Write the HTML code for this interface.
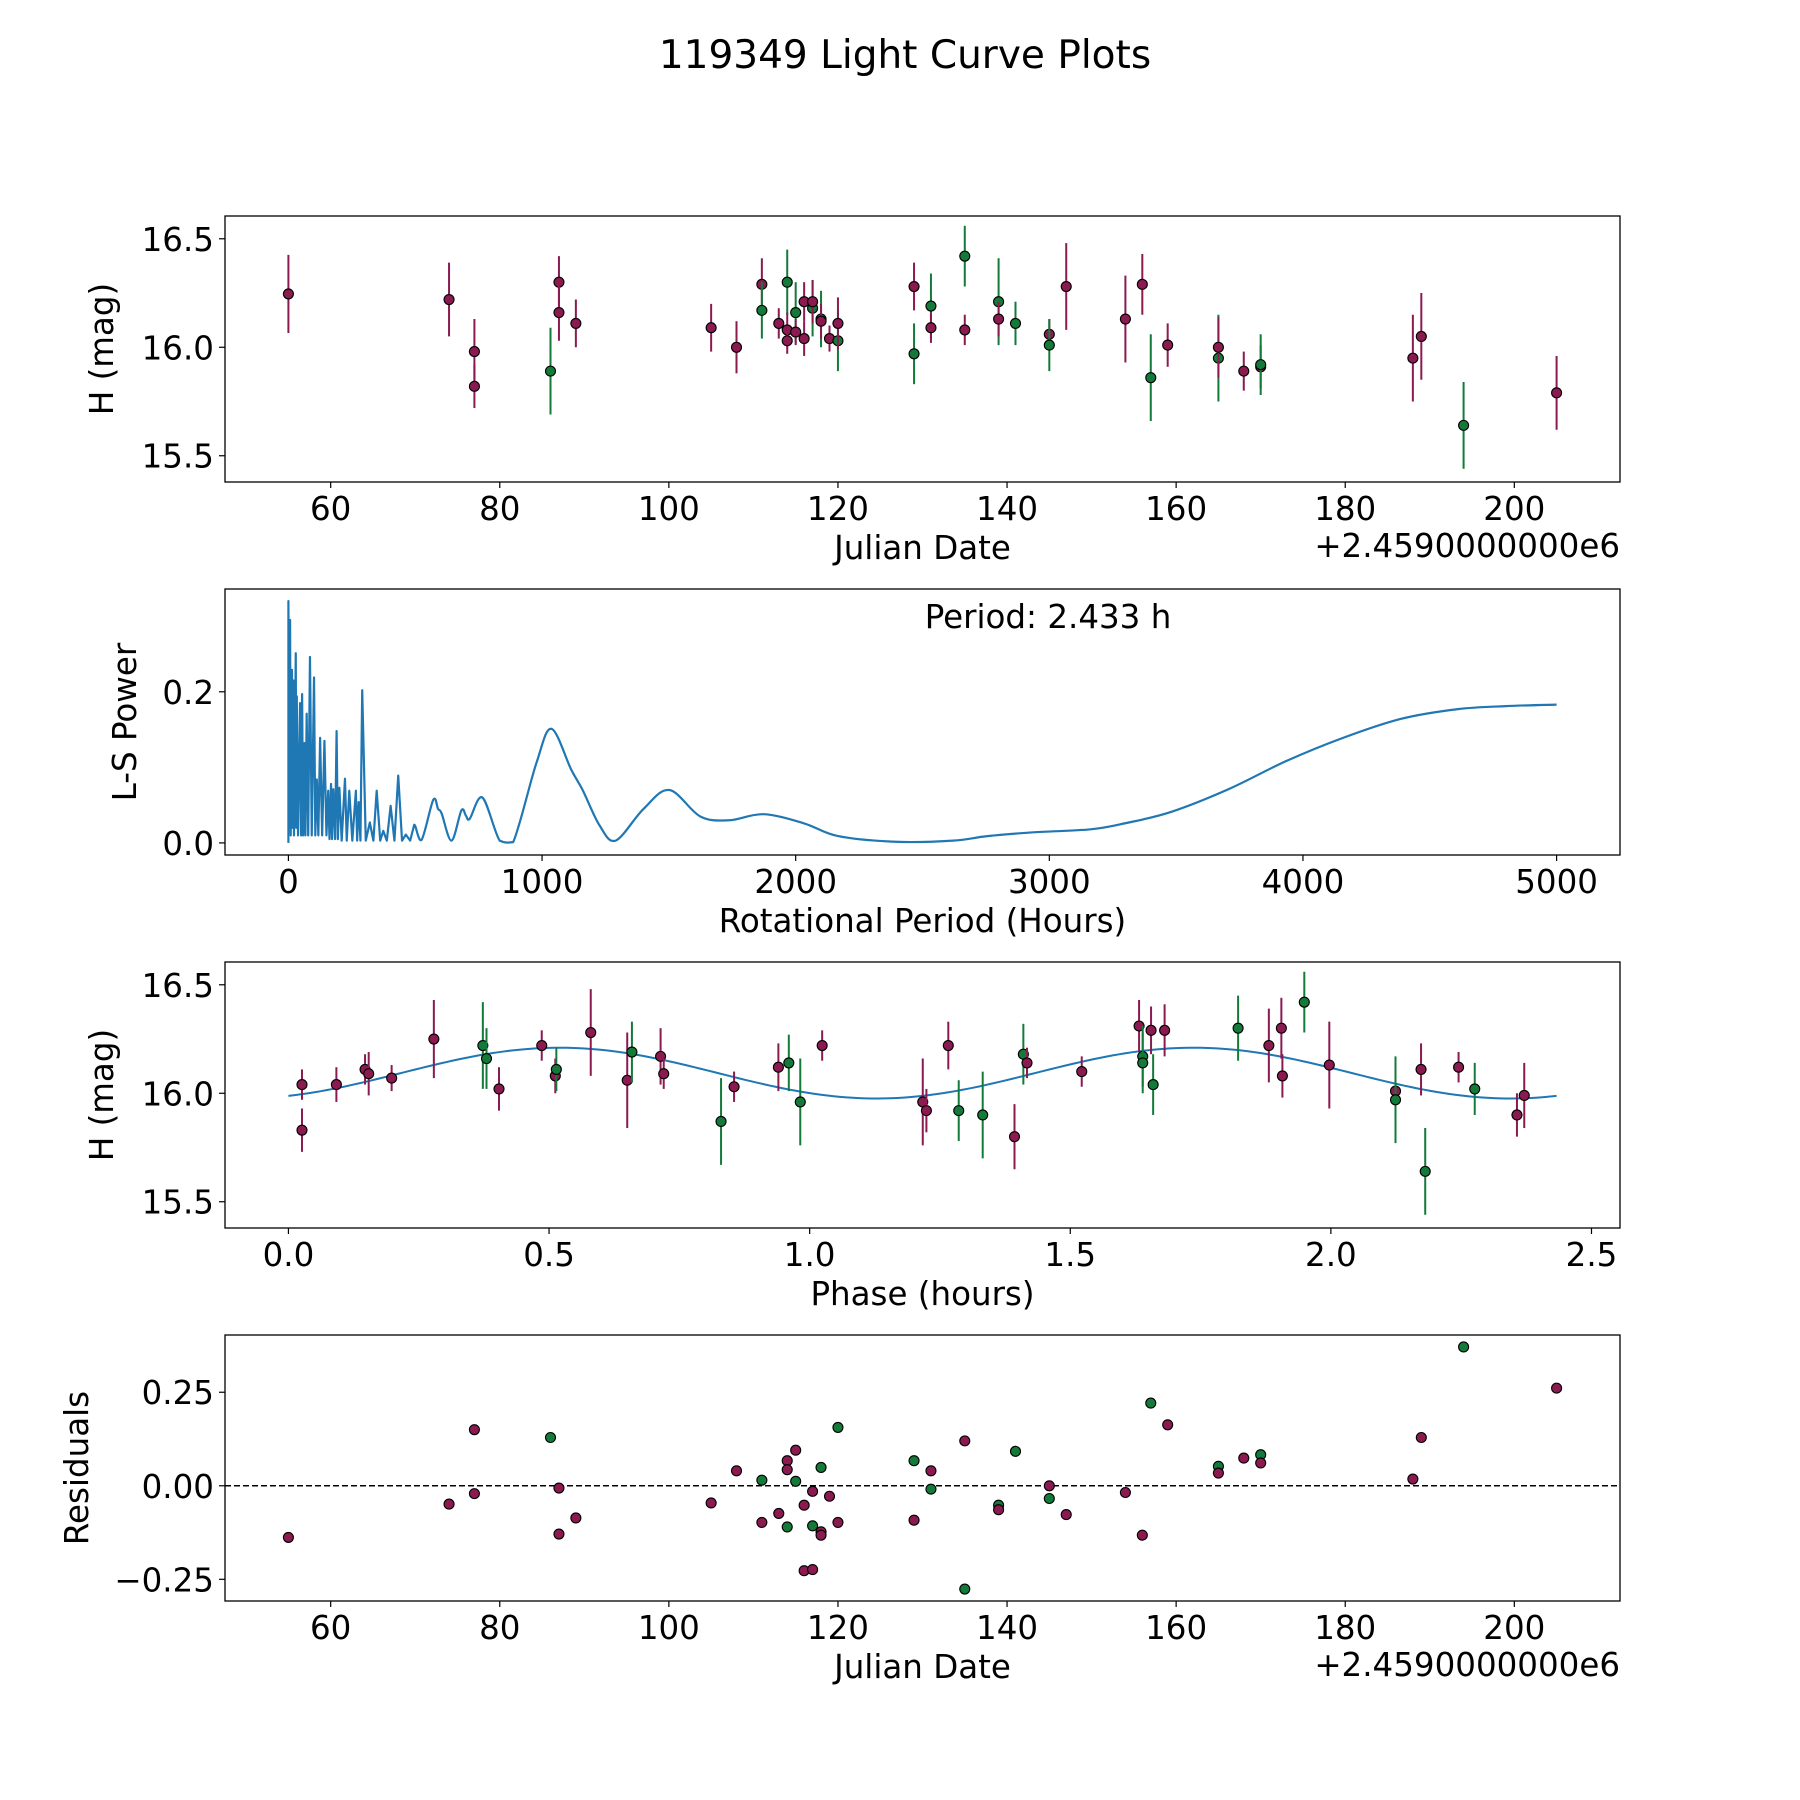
<!DOCTYPE html>
<html><head><meta charset="utf-8"><style>
html,body{margin:0;padding:0;background:#fff;}
svg{display:block;font-family:"DejaVu Sans","Liberation Sans",sans-serif;}
</style></head><body>
<svg id="fig" width="1800" height="1800" viewBox="0 0 1800 1800" xmlns="http://www.w3.org/2000/svg">
<rect width="1800" height="1800" fill="#fff"/>
<text x="905" y="68" font-size="39" text-anchor="middle">119349 Light Curve Plots</text>
</svg>
<script>
// ---- Panel 1: light curve data ----
const lcDate = [55,74,77,77,86,87,87,89,105,108,111,111,113,114,114,114,115,115,116,116,117,117,118,118,119,120,120,129,129,131,131,135,135,139,139,141,145,145,147,154,156,157,159,165,165,168,170,170,188,189,194,205];
const lcMag = [16.246,16.22,15.98,15.82,15.89,16.30,16.16,16.11,16.09,16.00,16.29,16.17,16.11,16.30,16.08,16.03,16.16,16.07,16.04,16.21,16.18,16.21,16.13,16.12,16.04,16.03,16.11,15.97,16.28,16.19,16.09,16.42,16.08,16.21,16.13,16.11,16.06,16.01,16.28,16.13,16.29,15.86,16.01,15.95,16.00,15.89,15.91,15.92,15.95,16.05,15.64,15.79];
const lcErr = [.18,.17,.15,.1,.2,.12,.13,.11,.11,.12,.12,.13,.07,.15,.08,.06,.14,.06,.08,.09,.13,.1,.13,.08,.06,.14,.12,.14,.11,.15,.07,.14,.07,.2,.08,.1,.07,.12,.2,.2,.14,.2,.1,.2,.14,.09,.1,.14,.2,.2,.2,.17];
const lcBand = "mmmmgmmmmmmgmgmmgmmmgmgmmgmgmgmgmgmgmgmmmgmgmmmgmmgm";
// ---- Panel 2: periodogram ----
const lsPeriod = [0,0,3,6.6,9,14,17,19.7,22,29,31,33,38,46,50,54,58,63,67,72,78,85,92,101,106,112,118,125,133,142,150,157,162,168,172,177,184,190,195,201,210,223,230,240,252,266,271,277,284,291,305,321,335,348,362,374,388,403,418,433,448,463,480,496,525,571,590,604,643,682,700,715,765,833,886,978,1037,1115,1160,1227,1290,1400,1502,1624,1738,1873,2032,2167,2394,2620,2756,2937,3163,3299,3480,3706,3932,4158,4385,4611,4800,5000];
const lsPower = [0,0.320,0.02,0.295,0.01,0.229,0.02,0.215,0.01,0.251,0.02,0.194,0.01,0.185,0.01,0.197,0.01,0.132,0.01,0.171,0.01,0.246,0.01,0.219,0.01,0.084,0.01,0.139,0.01,0.135,0.01,0.069,0.005,0.078,0.005,0.071,0.005,0.148,0.005,0.073,0.003,0.085,0.003,0.069,0.003,0.069,0.003,0.054,0.003,0.202,0.003,0.027,0.003,0.069,0.003,0.016,0.003,0.049,0.003,0.089,0.003,0.011,0.003,0.024,0.004,0.057,0.045,0.039,0.003,0.043,0.036,0.032,0.060,0.003,0.001,0.106,0.151,0.097,0.07,0.023,0.003,0.045,0.070,0.035,0.030,0.038,0.026,0.009,0.0015,0.003,0.009,0.014,0.018,0.026,0.041,0.071,0.108,0.139,0.164,0.177,0.181,0.183];
// ---- Panel 3: phased curve ----
const phPhase = [0.026,0.026,0.092,0.147,0.154,0.198,0.279,0.373,0.38,0.404,0.486,0.512,0.514,0.58,0.65,0.659,0.714,0.72,0.83,0.855,0.94,0.96,0.982,1.024,1.217,1.224,1.266,1.286,1.332,1.393,1.41,1.417,1.522,1.632,1.639,1.639,1.655,1.659,1.681,1.822,1.881,1.905,1.907,1.949,1.997,2.124,2.124,2.173,2.181,2.245,2.276,2.357,2.371];
const phMag = [15.83,16.04,16.04,16.11,16.09,16.07,16.25,16.22,16.16,16.02,16.22,16.08,16.11,16.28,16.06,16.19,16.17,16.09,15.87,16.03,16.12,16.14,15.96,16.22,15.96,15.92,16.22,15.92,15.90,15.80,16.18,16.14,16.10,16.31,16.17,16.14,16.29,16.04,16.29,16.30,16.22,16.30,16.08,16.42,16.13,16.01,15.97,16.11,15.64,16.12,16.02,15.90,15.99];
const phErr = [.1,.07,.08,.07,.1,.06,.18,.2,.14,.1,.07,.08,.1,.2,.22,.14,.13,.07,.2,.07,.11,.13,.2,.07,.2,.1,.11,.14,.2,.15,.14,.07,.07,.12,.14,.14,.11,.14,.12,.15,.17,.14,.1,.14,.2,.12,.2,.12,.2,.07,.12,.1,.15];
const phBand = "mmmmmmmggmmmgmmgmmgmmggmmmmggmgmmmggmgmgmmmgmmgmgmgmm";
const fitParams = [16.093, 0.117, 0.52, 2.433]; // mean, amplitude, peak phase, period
// ---- Panel 4: residuals ----
const resDate = [55,74,77,77,86,87,87,89,105,108,111,111,113,114,114,114,115,115,116,116,117,117,117,118,118,118,119,120,120,129,129,131,131,135,135,139,139,141,145,145,147,154,156,157,159,165,165,168,170,170,188,189,194,205];
const resVal = [-0.138,-0.049,0.150,-0.021,0.129,-0.006,-0.129,-0.086,-0.046,0.040,0.015,-0.098,-0.074,0.067,0.043,-0.110,0.095,0.012,-0.052,-0.227,-0.015,-0.107,-0.224,0.049,-0.123,-0.132,-0.028,0.156,-0.098,0.067,-0.092,0.040,-0.009,0.120,-0.276,-0.052,-0.064,0.092,0.000,-0.034,-0.077,-0.018,-0.132,0.221,0.163,0.052,0.034,0.074,0.083,0.061,0.018,0.129,0.371,0.261];
const resBand = "mmmmgmmmmmgmmmmgmgmmmgmgmmmgmgmmgmggmgmgmmmgmgmmgmmmgm";
const xTicksDate = [60,80,100,120,140,160,180,200];
const xTicksPeriod = [0,1000,2000,3000,4000,5000];
const xTicksPhase = [0,0.5,1.0,1.5,2.0,2.5];
const yTicksMag = [15.5,16.0,16.5];
const yTicksPow = [0.0,0.2];
const yTicksRes = [-0.25,0.0,0.25];

const NS="http://www.w3.org/2000/svg";
const svg=document.getElementById('fig');
const COL={m:'#8a1a50',g:'#137a3a'};
const FS=32.5;
function mk(tag,attrs,parent){const e=document.createElementNS(NS,tag);for(const k in attrs)e.setAttribute(k,attrs[k]);(parent||svg).appendChild(e);return e;}
const X0=225,W=1395,H=266;
function panel(top,xlim,ylim,name){
  const g=mk('g',{});
  
  
  const sx=v=>X0+(v-xlim[0])/(xlim[1]-xlim[0])*W;
  const sy=v=>top+H-(v-ylim[0])/(ylim[1]-ylim[0])*H;
  return {g,sx,sy,top};
}
function frame(p){
  const r=mk('rect',{x:X0,y:p.top,width:W,height:H,fill:'none',stroke:'#000','stroke-width':1.3},p.g);
  
  
}
function fmt(v,d){let s=v.toFixed(d);if(v<0)s='\u2212'+(-v).toFixed(d);return s;}
function axes(p,xt,xd,yt,yd,xlabel,ylabel,ylx,offset){
  const b=p.top+H;
  xt.forEach(v=>{const x=p.sx(v);
    mk('line',{x1:x,x2:x,y1:b,y2:b+6,stroke:'#000','stroke-width':1.2},p.g);
    const t=mk('text',{x:x,y:b+38,'font-size':FS,'text-anchor':'middle'},p.g);t.textContent=fmt(v,xd);
    
    });
  yt.forEach(v=>{const y=p.sy(v);
    mk('line',{x1:X0-6,x2:X0,y1:y,y2:y,stroke:'#000','stroke-width':1.2},p.g);
    const t=mk('text',{x:X0-11,y:y+12,'font-size':FS,'text-anchor':'end'},p.g);t.textContent=fmt(v,yd);
    
    });
  const xl=mk('text',{x:X0+W/2,y:b+77,'font-size':FS,'text-anchor':'middle'},p.g);xl.textContent=xlabel;
  
  
  const cy=p.top+H/2;
  const yl=mk('text',{x:ylx,y:cy,'font-size':FS,'text-anchor':'middle',transform:`rotate(-90 ${ylx} ${cy})`},p.g);yl.textContent=ylabel;
  
  
  if(offset){const o=mk('text',{x:X0+W,y:b+75,'font-size':FS,'text-anchor':'end'},p.g);o.textContent=offset;
    
    }
}
function pointsErr(p,xs,ys,es,band,nm){
  xs.forEach((v,i)=>{const c=COL[band[i]]||COL.m;const x=p.sx(v);
    if(es){const l=mk('line',{x1:x,x2:x,y1:p.sy(ys[i]+es[i]),y2:p.sy(ys[i]-es[i]),stroke:c,'stroke-width':2},p.g);
      
      }
    const ci=mk('circle',{cx:x,cy:p.sy(ys[i]),r:5,fill:c,stroke:'#000','stroke-width':1.1},p.g);
    
    });
}
const OFF='+2.4590000000e6';
// Panel 1
const p1=panel(216,[47.5,212.5],[15.379,16.605],'light-curve-panel');
pointsErr(p1,lcDate,lcMag,lcErr,lcBand,'light-curve-point');
frame(p1);axes(p1,xTicksDate,0,yTicksMag,1,'Julian Date','H (mag)',113,OFF);
// Panel 2
const p2=panel(589,[-250,5250],[-0.016,0.336],'periodogram-panel');
const P=lsPeriod.map((v,i)=>[p2.sx(v),p2.sy(lsPower[i])]);
const yBase=p2.sy(0);
let d='M'+P[0][0]+','+P[0][1];
for(let i=1;i<P.length;i++){
  if(lsPeriod[i]<=500){d+=' L'+P[i][0]+','+P[i][1];continue;}
  const p0=P[Math.max(i-2,0)],pa=P[i-1],pb=P[i],p3=P[Math.min(i+1,P.length-1)];
  const c1=[pa[0]+(pb[0]-p0[0])/6,Math.min(yBase,pa[1]+(pb[1]-p0[1])/6)];
  const c2=[pb[0]-(p3[0]-pa[0])/6,Math.min(yBase,pb[1]-(p3[1]-pa[1])/6)];
  d+=` C${c1[0]},${c1[1]} ${c2[0]},${c2[1]} ${pb[0]},${pb[1]}`;
}
const pl=mk('path',{d:d,fill:'none',stroke:'#1f77b4','stroke-width':2.2,'stroke-linejoin':'round'},p2.g);


frame(p2);axes(p2,xTicksPeriod,0,yTicksPow,1,'Rotational Period (Hours)','L-S Power',136,null);
const pt=mk('text',{x:1048,y:628,'font-size':FS,'text-anchor':'middle'},p2.g);pt.textContent='Period: 2.433 h';


// Panel 3
const p3=panel(962,[-0.1217,2.5547],[15.379,16.605],'phase-panel');
const fp=[];for(let k=0;k<=200;k++){const ph=fitParams[3]*k/200;const m=fitParams[0]+fitParams[1]*Math.cos(4*Math.PI*(ph-fitParams[2])/fitParams[3]);fp.push(p3.sx(ph)+','+p3.sy(m));}
const fl=mk('polyline',{points:fp.join(' '),fill:'none',stroke:'#1f77b4','stroke-width':2},p3.g);


pointsErr(p3,phPhase,phMag,phErr,phBand,'phased-point');
frame(p3);axes(p3,xTicksPhase,1,yTicksMag,1,'Phase (hours)','H (mag)',113,null);
// Panel 4
const p4=panel(1335,[47.5,212.5],[-0.308,0.403],'residuals-panel');
const zl=mk('line',{x1:X0,x2:X0+W,y1:p4.sy(0),y2:p4.sy(0),stroke:'#000','stroke-width':1.5,'stroke-dasharray':'6,3'},p4.g);


pointsErr(p4,resDate,resVal,null,resBand,'residual-point');
frame(p4);axes(p4,xTicksDate,0,yTicksRes,2,'Julian Date','Residuals',88,OFF);
</script>
</body></html>
